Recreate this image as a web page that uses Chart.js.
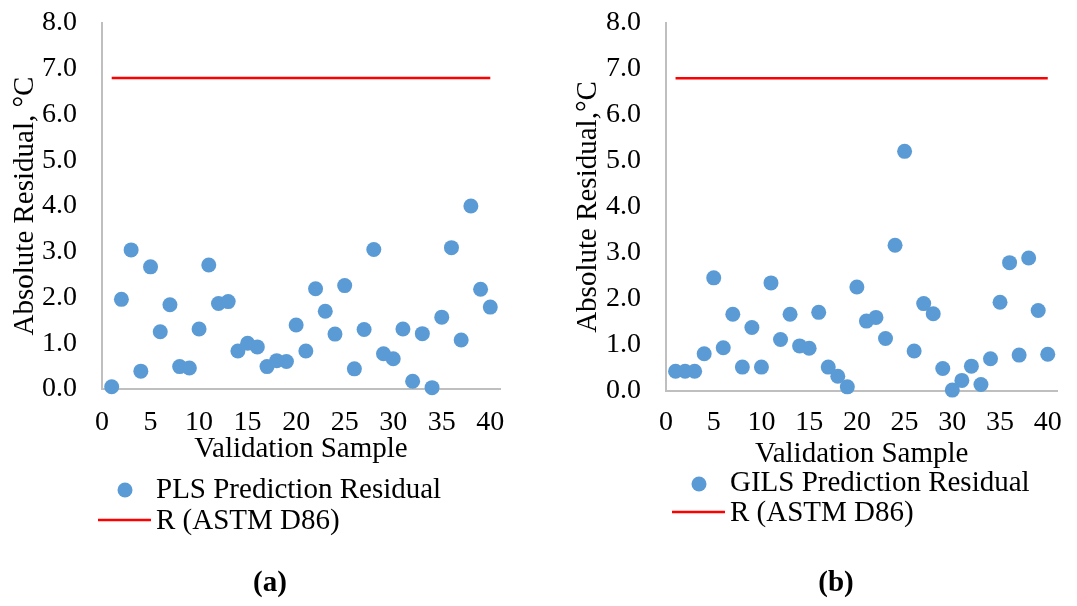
<!DOCTYPE html>
<html>
<head>
<meta charset="utf-8">
<script src="https://cdn.jsdelivr.net/npm/chart.js"></script>
<style>
  html, body { margin: 0; padding: 0; background: #ffffff; }
  #page { position: relative; width: 1077px; height: 606px; overflow: hidden; background: #ffffff; }
  canvas { position: absolute; top: 0; }
  .caption {
    position: absolute; top: 567px; width: 80px; margin-left: -40px;
    font: bold 29px "Liberation Serif", "Times New Roman", serif;
    line-height: 29px; text-align: center; color: #000;
  }
</style>
</head>
<body>
<div id="page">
  <canvas id="plsChart" width="540" height="606" style="left:0px"></canvas>
  <canvas id="gilsChart" width="537" height="606" style="left:540px"></canvas>
  <div class="caption" style="left:270px">(a)</div>
  <div class="caption" style="left:836px">(b)</div>
</div>
<script>
// Validation samples 1..40
const samples = [1, 2, 3, 4, 5, 6, 7, 8, 9, 10,
                 11, 12, 13, 14, 15, 16, 17, 18, 19, 20,
                 21, 22, 23, 24, 25, 26, 27, 28, 29, 30,
                 31, 32, 33, 34, 35, 36, 37, 38, 39, 40];

// Absolute prediction residuals, °C
const plsResidual = [0.05, 1.96, 3.04, 0.39, 2.67, 1.25, 1.84, 0.49, 0.46, 1.31,
                     2.71, 1.87, 1.91, 0.83, 1.00, 0.92, 0.49, 0.62, 0.60, 1.40,
                     0.83, 2.19, 1.70, 1.20, 2.26, 0.44, 1.30, 3.05, 0.77, 0.66,
                     1.31, 0.17, 1.21, 0.03, 1.57, 3.09, 1.07, 4.00, 2.18, 1.79];

const gilsResidual = [0.43, 0.43, 0.43, 0.81, 2.46, 0.94, 1.67, 0.52, 1.38, 0.52,
                      2.35, 1.12, 1.67, 0.98, 0.93, 1.71, 0.52, 0.32, 0.09, 2.26,
                      1.52, 1.60, 1.14, 3.17, 5.21, 0.87, 1.90, 1.68, 0.49, 0.02,
                      0.23, 0.54, 0.14, 0.70, 1.93, 2.79, 0.78, 2.89, 1.75, 0.80];

// Reproducibility limit R (ASTM D86), drawn across samples 1..40
const limitX = [1, 40];
const limitValue = [6.8, 6.8];

// Axis ticks
const xTickValues = [0, 5, 10, 15, 20, 25, 30, 35, 40];
const yTickValues = [0, 1, 2, 3, 4, 5, 6, 7, 8];

const SERIF = '"Liberation Serif", "Times New Roman", serif';
const POINT_BLUE = '#5b9bd5';
const LIMIT_RED = '#ff0000';
const AXIS_GREY = '#bfbfbf';

Chart.defaults.font.family = SERIF;
Chart.defaults.color = '#000000';

function toPoints(xs, ys) {
  return xs.map((x, i) => ({ x: x, y: ys[i] }));
}

// Legend drawn under the x-axis title: one item per row, circle or line marker
const stackedLegend = {
  id: 'stackedLegend',
  afterDraw(chart, args, opts) {
    const ctx = chart.ctx;
    const items = Chart.defaults.plugins.legend.labels.generateLabels(chart);
    ctx.save();
    ctx.font = opts.font;
    ctx.fillStyle = '#000000';
    ctx.textAlign = 'left';
    ctx.textBaseline = 'alphabetic';
    items.forEach((item, i) => {
      const row = opts.rows[i];
      const ds = chart.data.datasets[item.datasetIndex];
      if (ds.showLine) {
        ctx.strokeStyle = ds.borderColor;
        ctx.lineWidth = ds.borderWidth;
        ctx.beginPath();
        ctx.moveTo(row.x0, row.my);
        ctx.lineTo(row.x1, row.my);
        ctx.stroke();
      } else {
        ctx.fillStyle = ds.backgroundColor;
        ctx.beginPath();
        ctx.arc((row.x0 + row.x1) / 2, row.my, ds.pointRadius, 0, Math.PI * 2);
        ctx.fill();
      }
      ctx.fillStyle = '#000000';
      ctx.fillText(item.text, row.tx, row.ty);
    });
    ctx.restore();
  }
};

function buildChart(canvasId, cfg) {
  return new Chart(document.getElementById(canvasId), {
    type: 'scatter',
    data: {
      datasets: [
        {
          label: cfg.seriesLabel,
          data: toPoints(samples, cfg.values),
          backgroundColor: POINT_BLUE,
          borderColor: POINT_BLUE,
          borderWidth: 0,
          pointRadius: 7.5,
          pointHoverRadius: 7.5,
          showLine: false,
          clip: false
        },
        {
          label: 'R (ASTM D86)',
          data: toPoints(limitX, limitValue),
          borderColor: LIMIT_RED,
          backgroundColor: LIMIT_RED,
          borderWidth: 2.5,
          pointRadius: 0,
          showLine: true,
          clip: false
        }
      ]
    },
    options: {
      responsive: false,
      animation: false,
      devicePixelRatio: 1,
      layout: { padding: cfg.padding },
      plugins: {
        legend: { display: false },
        tooltip: { enabled: false },
        stackedLegend: cfg.legend
      },
      scales: {
        x: {
          type: 'linear',
          min: 0,
          max: 41,
          grid: { display: false, drawTicks: false },
          border: { display: true, color: AXIS_GREY, width: 2 },
          afterBuildTicks: (scale) => {
            scale.ticks = xTickValues.map(v => ({ value: v }));
          },
          afterFit: (scale) => { scale.height = cfg.xAxisHeight; },
          ticks: {
            padding: cfg.xTickPadding,
            font: { size: 28, family: SERIF },
            color: '#000000',
            maxRotation: 0,
            autoSkip: false
          },
          title: {
            display: true,
            text: 'Validation Sample',
            font: { size: 29, family: SERIF, lineHeight: 1.2 },
            color: '#000000',
            padding: { top: 0, bottom: 0 }
          }
        },
        y: {
          type: 'linear',
          min: 0,
          max: 8,
          grid: { display: false, drawTicks: false },
          border: { display: true, color: AXIS_GREY, width: 2 },
          afterBuildTicks: (scale) => {
            scale.ticks = yTickValues.map(v => ({ value: v }));
          },
          afterFit: (scale) => {
            scale.width = cfg.yAxisWidth;
            // the top label fits inside the layout padding already
            scale.paddingTop = 0;
            scale.paddingBottom = 0;
          },
          ticks: {
            padding: 25,
            font: { size: 28, family: SERIF },
            color: '#000000',
            callback: (v) => Number(v).toFixed(1)
          },
          title: {
            display: true,
            text: cfg.yTitle,
            font: { size: 29, family: SERIF, lineHeight: 1.2 },
            color: '#000000',
            padding: { top: cfg.yTitlePad, bottom: 0 }
          }
        }
      }
    },
    plugins: [stackedLegend]
  });
}

buildChart('plsChart', {
  seriesLabel: 'PLS Prediction Residual',
  values: plsResidual,
  yTitle: 'Absolute Residual, °C',
  padding: { top: 23, left: 0, right: 40, bottom: 139 },
  yAxisWidth: 102,
  yTitlePad: 8,
  xAxisHeight: 78,
  xTickPadding: 17,
  legend: {
    font: '29px ' + SERIF,
    rows: [
      { x0: 118, x1: 132, my: 490, tx: 156, ty: 498 },
      { x0: 98, x1: 151, my: 520, tx: 156, ty: 529 }
    ]
  }
});

buildChart('gilsChart', {
  seriesLabel: 'GILS Prediction Residual',
  values: gilsResidual,
  yTitle: 'Absolute Residual,°C',
  padding: { top: 23, left: 0, right: 10, bottom: 134 },
  yAxisWidth: 126,
  yTitlePad: 31,
  xAxisHeight: 81,
  xTickPadding: 15,
  legend: {
    font: '29px ' + SERIF,
    rows: [
      { x0: 152, x1: 166, my: 484, tx: 190, ty: 491 },
      { x0: 132, x1: 185, my: 512, tx: 190, ty: 521 }
    ]
  }
});
</script>
</body>
</html>
